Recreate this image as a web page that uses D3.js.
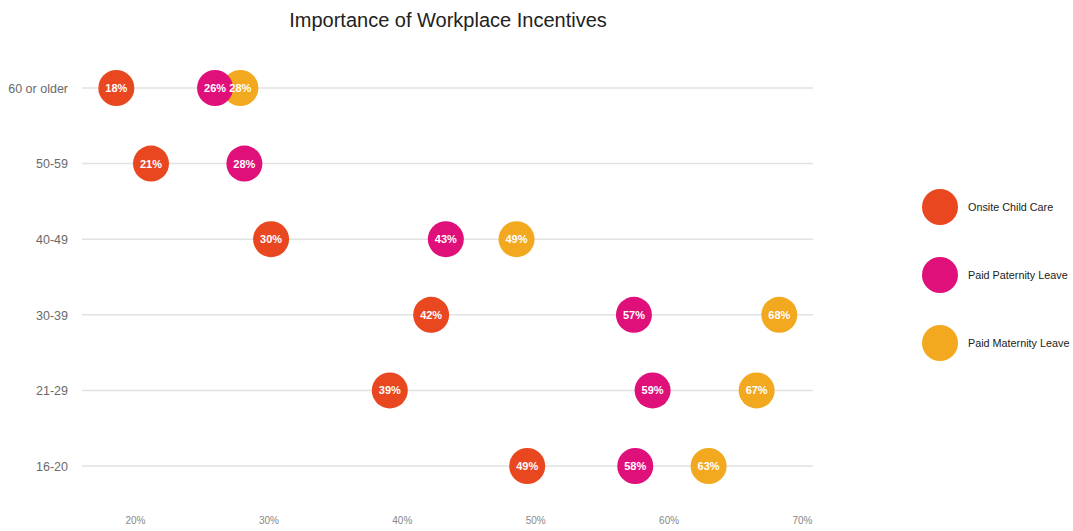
<!DOCTYPE html>
<html>
<head>
<meta charset="utf-8">
<script src="https://cdn.jsdelivr.net/npm/d3@7"></script>
<style>
  html, body { margin: 0; padding: 0; background: #fff; }
  svg { display: block; font-family: "Liberation Sans", Arial, sans-serif; }
</style>
</head>
<body>
<svg id="chart" width="1073" height="531"></svg>
<script>
const title = "Importance of Workplace Incentives";
const ageGroups = ["60 or older", "50-59", "40-49", "30-39", "21-29", "16-20"];
const seriesNames = ["Onsite Child Care", "Paid Paternity Leave", "Paid Maternity Leave"];
const seriesColors = ["#e9471f", "#e0107b", "#f2a81f"];
// plotted positions and printed labels
const onsiteValues    = [18.6, 21.2, 30.2, 42.2, 39.1, 49.4];
const paternityValues = [26.0, 28.2, 43.3, 57.4, 58.8, 57.5];
const maternityValues = [27.9, null, 48.6, 68.3, 66.6, 63.0];
const onsiteLabels    = ["18%", "21%", "30%", "42%", "39%", "49%"];
const paternityLabels = ["26%", "28%", "43%", "57%", "59%", "58%"];
const maternityLabels = ["28%", null, "49%", "68%", "67%", "63%"];
const xTicks = [20, 30, 40, 50, 60, 70];

const svg = d3.select("#chart");
const x = d3.scaleLinear().domain([20, 70]).range([135, 802]);
const y = d3.scalePoint().domain(ageGroups).range([88, 466]);

svg.append("text")
  .attr("x", 448).attr("y", 27)
  .attr("text-anchor", "middle")
  .attr("font-size", 20)
  .attr("fill", "#222")
  .text(title);

// grid lines
svg.append("g").selectAll("line").data(ageGroups).join("line")
  .attr("x1", 82).attr("x2", 813)
  .attr("y1", d => y(d)).attr("y2", d => y(d))
  .attr("stroke", "#e2e2e2").attr("stroke-width", 1.5);

// y axis labels
const yAxis = d3.axisLeft(y).tickSize(0).tickPadding(0);
const yg = svg.append("g").attr("transform", "translate(68,0)").call(yAxis);
yg.select(".domain").remove();
yg.selectAll("text").attr("font-size", 12.5).attr("fill", "#6a6a6a")
  .attr("font-family", "Liberation Sans, Arial, sans-serif").attr("dy", "0.35em");

// x axis labels
const xAxis = d3.axisBottom(x).tickValues(xTicks).tickSize(0).tickFormat(d => d + "%");
const xg = svg.append("g").attr("transform", "translate(0,514)").call(xAxis);
xg.select(".domain").remove();
xg.selectAll("text").attr("font-size", 10).attr("fill", "#888")
  .attr("font-family", "Liberation Sans, Arial, sans-serif");

const series = [
  { name: seriesNames[0], color: seriesColors[0], values: onsiteValues, labels: onsiteLabels },
  { name: seriesNames[1], color: seriesColors[1], values: paternityValues, labels: paternityLabels },
  { name: seriesNames[2], color: seriesColors[2], values: maternityValues, labels: maternityLabels }
];

const r = 18;
const drawOrder = [0, 2, 1];
drawOrder.forEach(si => {
  const s = series[si];
  const pts = ageGroups.map((g, i) => ({ g, v: s.values[i], l: s.labels[i] })).filter(d => d.v != null);
  svg.append("g").selectAll("circle").data(pts).join("circle")
    .attr("cx", d => x(d.v)).attr("cy", d => y(d.g)).attr("r", r)
    .attr("fill", s.color);
});
series.forEach(s => {
  const pts = ageGroups.map((g, i) => ({ g, v: s.values[i], l: s.labels[i] })).filter(d => d.v != null);
  svg.append("g").selectAll("text").data(pts).join("text")
    .attr("x", d => x(d.v)).attr("y", d => y(d.g))
    .attr("dy", "0.36em")
    .attr("text-anchor", "middle")
    .attr("font-size", 11).attr("font-weight", "bold")
    .attr("fill", "#fff")
    .text(d => d.l);
});

// legend
const legendY = d3.scalePoint().domain(seriesNames).range([207, 343]);
const lg = svg.append("g");
series.forEach(s => {
  lg.append("circle").attr("cx", 940).attr("cy", legendY(s.name)).attr("r", 18).attr("fill", s.color);
  lg.append("text").attr("x", 968).attr("y", legendY(s.name)).attr("dy", "0.35em")
    .attr("font-size", 10.8).attr("fill", "#222").text(s.name);
});
</script>
</body>
</html>
